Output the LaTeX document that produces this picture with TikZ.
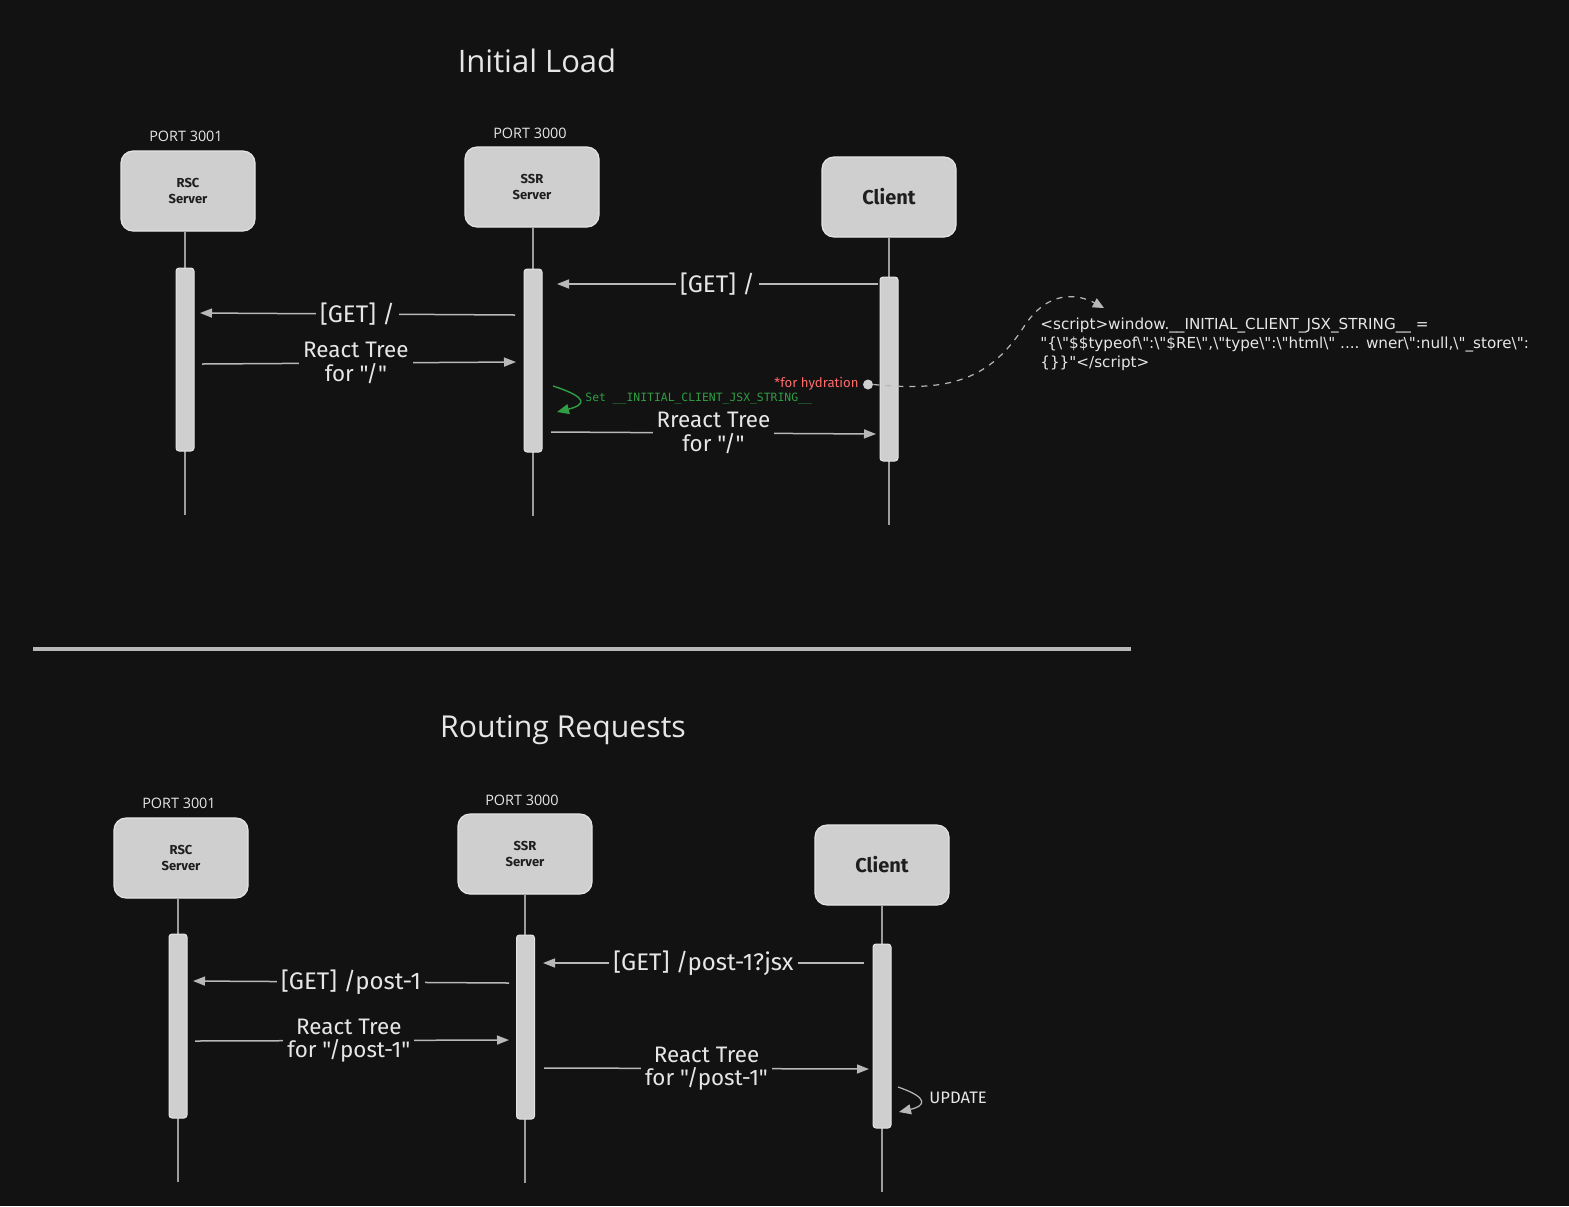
\documentclass[tikz,border=0pt]{standalone}
\usepackage{fontspec}
\setmainfont{Open Sans}
\newfontfamily\handfont{Fira Sans}
\newfontfamily\notefont{DejaVu Sans}
\newfontfamily\codefont{DejaVu Sans Mono}
\usetikzlibrary{arrows.meta}
\definecolor{bgc}{HTML}{121212}
\definecolor{boxc}{HTML}{CFCFCF}
\definecolor{boxedge}{HTML}{E4E4E4}
\definecolor{linec}{HTML}{B8B8B8}
\definecolor{lifec}{HTML}{9C9C9C}
\definecolor{txtc}{HTML}{E6E6E6}
\definecolor{darktxt}{HTML}{1E1E1E}
\definecolor{greenc}{HTML}{2F9E44}
\definecolor{redc}{HTML}{FF6B6B}
\newcommand\mybsl{\textbackslash}
\tikzset{
  actor/.style={draw=boxedge, line width=0.6pt, fill=boxc, rounded corners=6pt,
    minimum width=67pt, minimum height=40pt, align=center, text=darktxt,
    font=\handfont\fontsize{6.5}{8}\selectfont\bfseries},
  bigactor/.style={actor, font=\handfont\fontsize{10}{12}\selectfont\bfseries},
  port/.style={text=txtc, font=\fontsize{7.2}{8.5}\selectfont},
  title/.style={text=txtc, font=\fontsize{15.5}{18}\selectfont},
  bar/.style={draw=boxedge, line width=0.5pt, fill=boxc, rounded corners=1.5pt,
    minimum width=9pt, inner sep=0pt},
  life/.style={draw=lifec, line width=0.7pt},
  arr/.style={draw=linec, line width=0.75pt, -{Triangle[length=6pt,width=4.5pt]}},
  lbl/.style={fill=bgc, text=txtc, inner sep=2pt, align=center,
    font=\handfont\fontsize{11.2}{11.8}\selectfont},
  getlbl/.style={lbl, font=\handfont\fontsize{12}{13}\selectfont},
  note/.style={text=txtc, align=left, font=\notefont\fontsize{7.6}{9.5}\selectfont},
}
\begin{document}
\begin{tikzpicture}[x=0.5pt,y=-0.5pt]
\useasboundingbox[fill=bgc] (0,0) rectangle (1569,1206);

% ---------------- Initial Load ----------------
\node[title] (t1) at (537,61) {Initial Load};

\node[port] (p1) at (186,136) {PORT 3001};
\node[port] (p2) at (530,133) {PORT 3000};
\node[actor] (rsc1) at (188,191) {RSC\\Server};
\node[actor] (ssr1) at (532,187) {SSR\\Server};
\node[bigactor] (cli1) at (889,197) {Client};

\coordinate (rsc1end) at (185,515);
\coordinate (ssr1end) at (533,516);
\coordinate (cli1end) at (889,525);
\draw[life] (rsc1.south -| rsc1end) -- (rsc1end);
\draw[life] (ssr1.south -| ssr1end) -- (ssr1end);
\draw[life] (cli1.south -| cli1end) -- (cli1end);

\node[bar, minimum height=91.5pt] (rscbar1) at (185,359.5) {};
\node[bar, minimum height=91.5pt] (ssrbar1) at (533,360.5) {};
\node[bar, minimum height=92pt] (clibar1) at (889,369) {};

\coordinate (a1s) at (878,284); \coordinate (a1e) at (557,284);
\draw[arr] (a1s) -- node[getlbl] (l1) {[GET] /} (a1e);
\coordinate (a2s) at (515,315); \coordinate (a2e) at (200,313);
\draw[arr] (a2s) -- node[getlbl] (l2) {[GET] /} (a2e);
\coordinate (a3s) at (202,364); \coordinate (a3e) at (516,362);
\draw[arr] (a3s) -- node[lbl, pos=0.49] (l3) {React Tree\\for "/"} (a3e);

% green self arrow
\coordinate (g1) at (553,386); \coordinate (g2) at (557,412);
\draw[draw=greenc, line width=0.7pt, -{Triangle[length=6pt,width=5pt]}]
  (g1) .. controls (590,398) and (585,405) .. (g2);
\node[anchor=west, inner sep=0pt, text=greenc, font=\codefont\fontsize{5.7}{7}\selectfont] (gl) at (585,399)
  {Set \_\_INITIAL\_CLIENT\_JSX\_STRING\_\_};

% hydration
\node[anchor=east, text=redc, inner sep=0pt, font=\handfont\fontsize{6.6}{7.5}\selectfont] (hy) at (859,384) {*for hydration};
\node[circle, fill=boxc, inner sep=0pt, minimum size=5pt] (dot) at (868,384.5) {};
\coordinate (dend) at (1104,308);
\draw[draw=linec, line width=0.6pt, dashed, dash pattern=on 3pt off 3pt, -{Triangle[length=5.5pt,width=5pt]}]
  (dot.east) .. controls (950,392) and (990,380) .. (1025,325)
  .. controls (1050,288) and (1080,295) .. (dend);

\node[note, anchor=north west, inner sep=0pt] (scr) at (1040,318)
 {<script>window.\_\_INITIAL\_CLIENT\_JSX\_STRING\_\_ =\\
  "\{\mybsl"\$\$typeof\mybsl":\mybsl"\$RE\mybsl",\mybsl"type\mybsl":\mybsl"html\mybsl" .... wner\mybsl":null,\mybsl"\_store\mybsl":\\
  \{\}\}"</script>};

\coordinate (a4s) at (551,432); \coordinate (a4e) at (876,434);
\draw[arr] (a4s) -- node[lbl] (l4) {Rreact Tree\\for "/"} (a4e);

% separator
\coordinate (sepa) at (33,649); \coordinate (sepb) at (1131,649);
\draw[draw=linec, line width=1.6pt] (sepa) -- (sepb);

% ---------------- Routing Requests ----------------
\node[title, font=\fontsize{15.1}{18}\selectfont] (t2) at (563,730) {Routing Requests};

\node[port] (p3) at (179,803) {PORT 3001};
\node[port] (p4) at (522,800) {PORT 3000};
\node[actor] (rsc2) at (181,858) {RSC\\Server};
\node[actor] (ssr2) at (525,854) {SSR\\Server};
\node[bigactor] (cli2) at (882,865) {Client};

\coordinate (rsc2end) at (178,1182);
\coordinate (ssr2end) at (525,1183);
\coordinate (cli2end) at (882,1192);
\draw[life] (rsc2.south -| rsc2end) -- (rsc2end);
\draw[life] (ssr2.south -| ssr2end) -- (ssr2end);
\draw[life] (cli2.south -| cli2end) -- (cli2end);

\node[bar, minimum height=92pt] (rscbar2) at (178,1026) {};
\node[bar, minimum height=92pt] (ssrbar2) at (525.5,1027) {};
\node[bar, minimum height=92pt] (clibar2) at (882,1036) {};

\coordinate (b1s) at (864,963); \coordinate (b1e) at (543,963);
\draw[arr] (b1s) -- node[getlbl] (m1) {[GET] /post-1?jsx} (b1e);
\coordinate (b2s) at (509,983); \coordinate (b2e) at (193,981);
\draw[arr] (b2s) -- node[getlbl] (m2) {[GET] /post-1} (b2e);
\coordinate (b3s) at (195,1041); \coordinate (b3e) at (509,1040);
\draw[arr] (b3s) -- node[lbl, pos=0.49] (m3) {React Tree\\for "/post-1"} (b3e);
\coordinate (b4s) at (544,1068); \coordinate (b4e) at (869,1069);
\draw[arr] (b4s) -- node[lbl] (m4) {React Tree\\for "/post-1"} (b4e);

% update self arrow
\coordinate (u1) at (898,1087); \coordinate (u2) at (899,1112);
\draw[draw=linec, line width=0.6pt, -{Triangle[length=6pt,width=5pt]}]
  (u1) .. controls (930,1098) and (925,1106) .. (u2);
\node[anchor=west, inner sep=0pt, text=txtc, font=\handfont\fontsize{8.3}{9}\selectfont] (ul) at (929,1098) {UPDATE};
\end{tikzpicture}
\end{document}
